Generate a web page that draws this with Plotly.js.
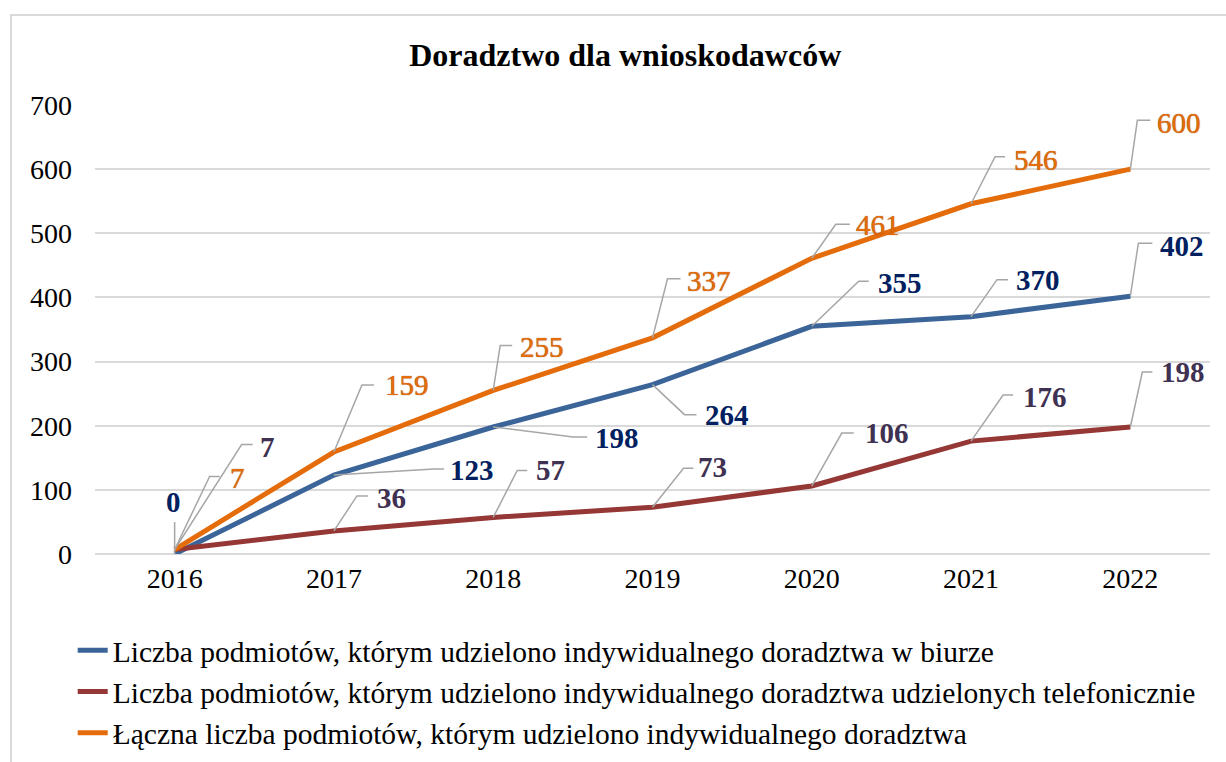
<!DOCTYPE html>
<html>
<head>
<meta charset="utf-8">
<script src="https://cdn.plot.ly/plotly-3.0.1.min.js"></script>
<style>
  html, body { margin: 0; padding: 0; background: #ffffff; }
  #wrap { position: relative; width: 1226px; height: 762px; }
  #chart { width: 1226px; height: 762px; }
  #frame { position: absolute; left: 10px; top: 14px; right: 0; bottom: -5px;
           border-left: 2px solid #d9d9d9; border-top: 2px solid #d9d9d9; pointer-events: none; }
</style>
</head>
<body>
<div id="wrap">
  <div id="chart"></div>
  <div id="frame"></div>
</div>
<script>
// ---- data ----
const years = ['2016', '2017', '2018', '2019', '2020', '2021', '2022'];
const biuro = [0, 123, 198, 264, 355, 370, 402];
const telefon = [7, 36, 57, 73, 106, 176, 198];
const laczna = [7, 159, 255, 337, 461, 546, 600];
const seriesNames = [
  'Liczba podmiotów, którym udzielono indywidualnego doradztwa w biurze',
  'Liczba podmiotów, którym udzielono indywidualnego doradztwa udzielonych telefonicznie',
  'Łączna liczba podmiotów, którym udzielono indywidualnego doradztwa'
];
const chartTitle = 'Doradztwo dla wnioskodawców';

// ---- styling (label placement, screen pixels: [labelDx, labelDy, elbowDx, elbowDy, endDx]) ----
const FONT = '"Liberation Serif", "Times New Roman", serif';
const lineColors = ['#3B6598', '#953735', '#E46C0A'];
const labelColors = ['#002060', '#3F3151', '#E46C0A'];
const labelWeights = ['bold', 'bold', 'normal'];
const labelShadows = ['none', 'none', '0px 0px 1px #8a3a00'];
const placeBiuro = [[-1,-52,0,-32,0],[138,-5,100,-6,110],[124,11,80,10,94],[74,30,32,30,44],[88,-43,47,-45,57],[67,-37,26,-37,37],[52,-50,8,-53,22]];
const placeTelefon = [[93,-103,67,-105,78],[58,-33,23,-35,34],[57,-47,24,-47,34],[60,-40,31,-39,41],[75,-53,30,-53,42],[74,-44,32,-46,42],[53,-55,12,-55,22]];
const placeLaczna = [[63,-72,35,-73,45],[73,-67,28,-67,40],[49,-43,7,-45,19],[56,-57,15,-59,28],[66,-33,24,-34,38],[65,-44,24,-47,34],[49,-46,7,-49,20]];

const allValues = [biuro, telefon, laczna];
const allPlaces = [placeBiuro, placeTelefon, placeLaczna];

const traces = allValues.map((vals, s) => ({
  type: 'scatter', mode: 'lines', x: years, y: vals, name: seriesNames[s],
  line: { color: lineColors[s], width: 5 }, hoverinfo: 'skip'
}));

const annotations = [];
const shapes = [];
allValues.forEach((vals, s) => {
  vals.forEach((v, i) => {
    const p = allPlaces[s][i];
    annotations.push({
      x: i, y: v, xref: 'x', yref: 'y', text: String(v), showarrow: false,
      xshift: p[0], yshift: -p[1], xanchor: 'center', yanchor: 'middle',
      font: { family: FONT, size: 29, color: labelColors[s], weight: labelWeights[s], shadow: labelShadows[s] }
    });
    shapes.push({
      type: 'path', xref: 'x', yref: 'y', xsizemode: 'pixel', ysizemode: 'pixel',
      xanchor: i, yanchor: v,
      path: `M0,0 L${p[2]},${-p[3]} L${p[4]},${-p[3]}`,
      line: { color: '#a6a6a6', width: 1.5 }, layer: 'above'
    });
  });
});

const layout = {
  width: 1226, height: 762,
  margin: { l: 95, r: 16, t: 105, b: 208, autoexpand: false },
  paper_bgcolor: '#ffffff', plot_bgcolor: '#ffffff',
  font: { family: FONT, size: 28, color: '#000000' },
  title: { text: chartTitle, x: 0.51, xref: 'container', xanchor: 'center', y: 0.928, yref: 'container', yanchor: 'middle',
           font: { family: FONT, size: 32, weight: 'bold', color: '#000000' } },
  xaxis: { type: 'category', range: [-0.5, 6.5], autorange: false, showgrid: false, showline: false, zeroline: false, ticks: '',
           tickfont: { family: FONT, size: 28, color: '#000000' }, ticklabelstandoff: 5, fixedrange: true },
  yaxis: { range: [0, 700], autorange: false, dtick: 100, showgrid: true, gridcolor: '#d9d9d9', gridwidth: 2,
           zeroline: true, zerolinecolor: '#d9d9d9', zerolinewidth: 2, showline: false, ticks: '',
           tickfont: { family: FONT, size: 28, color: '#000000' }, ticklabelstandoff: 22, fixedrange: true },
  showlegend: true,
  legend: { x: -0.02, xanchor: 'left', y: -0.157, yanchor: 'top', orientation: 'v',
            font: { family: FONT, size: 29.5, color: '#000000' }, bgcolor: 'rgba(0,0,0,0)', itemclick: false },
  annotations: annotations,
  shapes: shapes
};

Plotly.newPlot('chart', traces, layout, { displayModeBar: false, staticPlot: true });
</script>
</body>
</html>
